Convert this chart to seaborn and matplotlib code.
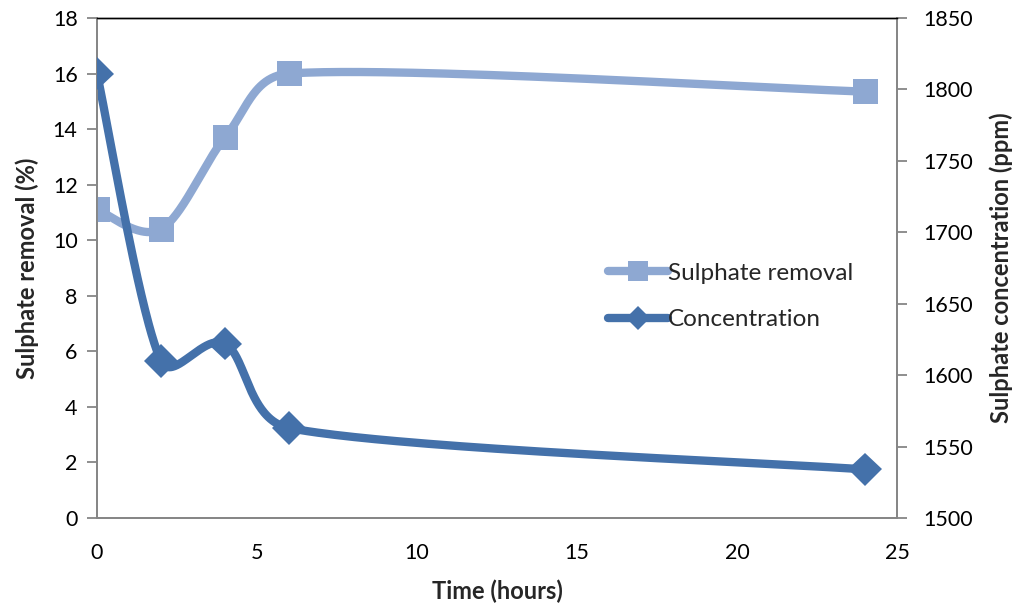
import numpy as np
import pandas as pd
import matplotlib
matplotlib.use("Agg")
import matplotlib.pyplot as plt
import matplotlib.patheffects as pe
from matplotlib.lines import Line2D
import seaborn as sns

# ---- data ----
time_h = [0, 2, 4, 6, 24]
removal_pct = [11.1, 10.4, 13.7, 16.0, 15.35]
concentration_ppm = [1811, 1610, 1622, 1563, 1534]
series_names = ["Sulphate removal", "Concentration"]
left_ticks = [0, 2, 4, 6, 8, 10, 12, 14, 16, 18]
right_ticks = [1500, 1550, 1600, 1650, 1700, 1750, 1800, 1850]
x_ticks = [0, 5, 10, 15, 20, 25]

C_LIGHT = "#8EA8D2"
C_DARK = "#4471AA"

W, H = 1014, 608
AX_L, AX_R, AX_T, AX_B = 97, 897, 18, 518


def smooth(xs, ys, xlim, ylim, n=80, kmax=0.4):
    """Excel-like smoothed line: Catmull-Rom cubic Bezier in pixel space, with clamped handles."""
    sx = (AX_R - AX_L) / (xlim[1] - xlim[0])
    sy = (AX_B - AX_T) / (ylim[1] - ylim[0])
    P = np.column_stack([(np.asarray(xs, float) - xlim[0]) * sx,
                         (np.asarray(ys, float) - ylim[0]) * sy])
    m = len(P)
    T = []
    for i in range(m):
        a = P[i - 1] if i > 0 else P[i]
        b = P[i + 1] if i < m - 1 else P[i]
        T.append((b - a) / 6.0)
    out = []
    for i in range(m - 1):
        p1, p2 = P[i], P[i + 1]
        L = np.linalg.norm(p2 - p1)
        t1, t2 = T[i], T[i + 1]
        n1, n2 = np.linalg.norm(t1) + 1e-9, np.linalg.norm(t2) + 1e-9
        c1 = p1 + t1 * min(1.0, kmax * L / n1)
        c2 = p2 - t2 * min(1.0, kmax * L / n2)
        t = np.linspace(0, 1, n)[:, None]
        seg = ((1 - t) ** 3) * p1 + 3 * ((1 - t) ** 2) * t * c1 + 3 * (1 - t) * t ** 2 * c2 + t ** 3 * p2
        out.append(seg if i == 0 else seg[1:])
    pts = np.vstack(out)
    return pts[:, 0] / sx + xlim[0], pts[:, 1] / sy + ylim[0]


sns.set_style("white")
plt.rcParams["font.family"] = ["Lato", "DejaVu Sans"]

fig = plt.figure(figsize=(W / 100, H / 100), dpi=100)
ax = fig.add_axes([AX_L / W, 1 - AX_B / H, (AX_R - AX_L) / W, (AX_B - AX_T) / H])
ax2 = ax.twinx()

XL, YL, YR = (0, 25), (0, 18), (1500, 1850)

shadow = [pe.SimpleLineShadow(offset=(1.5, -1.5), alpha=0.25, shadow_color="black"), pe.Normal()]

# removal curve
sx, sy = smooth(time_h, removal_pct, XL, YL)
df_r = pd.DataFrame({"x": sx, "y": sy})
sns.lineplot(data=df_r, x="x", y="y", ax=ax, color=C_LIGHT, lw=6, sort=False,
             solid_capstyle="round", zorder=2)
ax.plot(time_h, removal_pct, ls="none", marker="s", ms=18, color=C_LIGHT,
        markeredgewidth=0, zorder=3, path_effects=shadow)

# concentration curve
cx, cy = smooth(time_h, concentration_ppm, XL, YR)
df_c = pd.DataFrame({"x": cx, "y": cy})
sns.lineplot(data=df_c, x="x", y="y", ax=ax2, color=C_DARK, lw=6, sort=False,
             solid_capstyle="round", zorder=2)
ax2.plot(time_h, concentration_ppm, ls="none", marker="D", ms=17, color=C_DARK,
         markeredgewidth=0, zorder=3, path_effects=shadow)

ax.set_xlim(*XL)
ax.set_ylim(*YL)
ax2.set_ylim(*YR)
ax.set_xticks(x_ticks)
ax.set_yticks(left_ticks)
ax2.set_yticks(right_ticks)

for a in (ax, ax2):
    for s in a.spines.values():
        s.set_color("#868686")
        s.set_linewidth(1.3)
    a.spines["top"].set_color("black")
    a.spines["top"].set_linewidth(1.0)
    a.tick_params(colors="#868686", labelcolor="black", labelsize=15.5, length=7, width=1.3)
ax.tick_params(axis="y", direction="out", pad=7)
ax.tick_params(axis="x", direction="out", pad=12, length=6)
ax2.tick_params(axis="y", direction="out", pad=12)

ax.set_xlabel("Time (hours)", fontsize=17, fontweight="bold", labelpad=12)
ax.set_ylabel("Sulphate removal (%)", fontsize=17, fontweight="bold", labelpad=10)
ax2.set_ylabel("Sulphate concentration (ppm)", fontsize=17, fontweight="bold", labelpad=12)

handles = [
    Line2D([], [], color=C_LIGHT, lw=6, marker="s", ms=15, markeredgewidth=0, solid_capstyle="round"),
    Line2D([], [], color=C_DARK, lw=6, marker="D", ms=12, markeredgewidth=0, solid_capstyle="round"),
]
ax.legend(handles, series_names, loc="upper left", bbox_to_anchor=(0.623, 0.535),
          frameon=False, fontsize=17.5, handlelength=2.5, handletextpad=0.0,
          labelspacing=1.05, borderpad=0)

fig.savefig("out.png", dpi=100)
